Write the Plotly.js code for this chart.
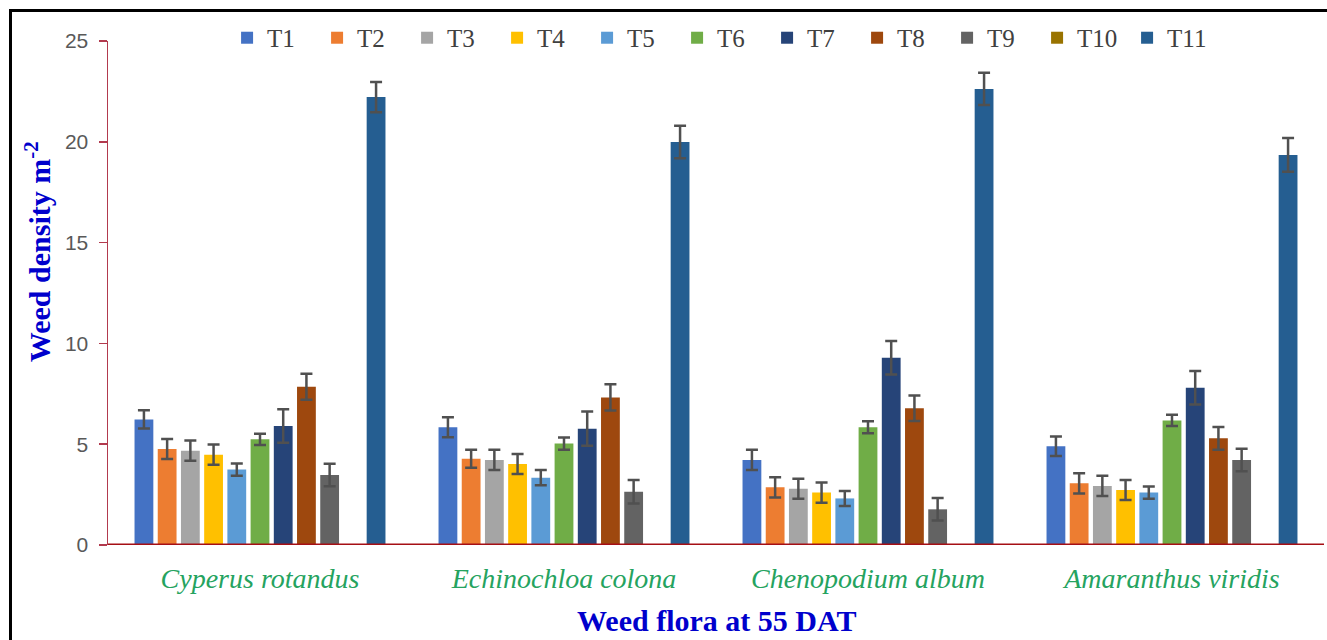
<!DOCTYPE html>
<html>
<head>
<meta charset="utf-8">
<script src="https://cdn.plot.ly/plotly-3.0.1.min.js"></script>
<style>
html,body{margin:0;padding:0;background:#fff;overflow:hidden;}
#chart{position:absolute;left:0;top:0;width:1327px;height:640px;}
#frame{position:absolute;left:9px;top:9px;width:1400px;height:700px;border:3px solid #000;pointer-events:none;}
</style>
</head>
<body>
<div id="chart"></div>
<div id="frame"></div>
<script>
const categories = ["Cyperus rotandus", "Echinochloa colona", "Chenopodium album", "Amaranthus viridis"];
const seriesNames = ["T1","T2","T3","T4","T5","T6","T7","T8","T9","T10","T11"];
const seriesColors = ["#4472C4","#ED7D31","#A5A5A5","#FFC000","#5B9BD5","#70AD47","#264478","#9E480E","#636363","#997300","#255E91"];

const T1 = [6.23, 5.84, 4.22, 4.90];
const T2 = [4.76, 4.28, 2.86, 3.06];
const T3 = [4.68, 4.22, 2.79, 2.93];
const T4 = [4.48, 4.02, 2.60, 2.73];
const T5 = [3.74, 3.34, 2.31, 2.60];
const T6 = [5.24, 5.03, 5.84, 6.18];
const T7 = [5.90, 5.77, 9.29, 7.80];
const T8 = [7.85, 7.32, 6.78, 5.29];
const T9 = [3.47, 2.64, 1.77, 4.22];
const T10 = [0, 0, 0, 0];
const T11 = [22.22, 19.99, 22.62, 19.35];

const E1 = [0.45, 0.50, 0.50, 0.48];
const E2 = [0.50, 0.45, 0.50, 0.50];
const E3 = [0.50, 0.50, 0.50, 0.50];
const E4 = [0.50, 0.50, 0.50, 0.50];
const E5 = [0.30, 0.38, 0.37, 0.30];
const E6 = [0.28, 0.30, 0.30, 0.28];
const E7 = [0.83, 0.85, 0.83, 0.83];
const E8 = [0.65, 0.65, 0.63, 0.56];
const E9 = [0.56, 0.58, 0.56, 0.56];
const E10 = [0, 0, 0, 0];
const E11 = [0.75, 0.80, 0.80, 0.84];

const yTicks = [0, 5, 10, 15, 20, 25];

const values = [T1,T2,T3,T4,T5,T6,T7,T8,T9,T10,T11];
const errors = [E1,E2,E3,E4,E5,E6,E7,E8,E9,E10,E11];

const traces = seriesNames.map((name, i) => ({
  type: 'bar',
  name: name,
  x: categories,
  y: values[i],
  marker: {color: seriesColors[i], line: {width: 0}},
  error_y: {
    type: 'data', array: errors[i], visible: i !== 9,
    color: '#505050', thickness: 2.5, width: 6
  },
  hoverinfo: 'x+y+name'
}));

const serif = '"Liberation Serif", "Times New Roman", serif';

const layout = {
  width: 1327, height: 640,
  paper_bgcolor: '#fff', plot_bgcolor: '#fff',
  margin: {l: 108, r: 3, t: 41, b: 95},
  barmode: 'group',
  bargap: 0.16,
  bargroupgap: 0.19,
  showlegend: true,
  legend: {
    orientation: 'h', x: 0.505, xanchor: 'center', y: 1.006, yanchor: 'middle',
    font: {family: serif, size: 25, color: '#404040'},
    entrywidth: 45, entrywidthmode: 'pixels',
    itemwidth: 30, tracegroupgap: 0, bgcolor: 'rgba(0,0,0,0)'
  },
  xaxis: {
    type: 'category',
    showgrid: false, zeroline: false,
    showline: false,
    ticks: '',
    tickfont: {family: serif, size: 28, color: '#25A35F', style: 'italic'},
    ticklabelstandoff: 14
  },
  yaxis: {
    range: [0, 25],
    tickvals: yTicks,
    showgrid: false, zeroline: false,
    showline: true, linecolor: '#B23A4E', linewidth: 1.5,
    ticks: 'outside', ticklen: 8, tickcolor: '#B23A4E', tickwidth: 1.5,
    tickfont: {family: '"Liberation Sans", Arial, sans-serif', size: 21, color: '#595959'},
    ticklabelstandoff: 6
  },
  shapes: [
    {type: 'line', xref: 'paper', yref: 'y', x0: 0, x1: 1, y0: 0, y1: 0,
     line: {color: '#A50F15', width: 3}}
  ],
  annotations: [
    {text: '<b>Weed density m<sup>-2</sup></b>', xref: 'paper', yref: 'paper',
     x: -0.0576, y: 0.583, xanchor: 'center', yanchor: 'middle', textangle: -90,
     showarrow: false, font: {family: serif, size: 30, color: '#0000CC'}},
    {text: '<b>Weed flora at 55 DAT</b>', xref: 'paper', yref: 'paper',
     x: 0.5, y: (545 - 620) / 504, xanchor: 'center', yanchor: 'middle',
     showarrow: false, font: {family: serif, size: 30, color: '#0000CC'}}
  ]
};

Plotly.newPlot('chart', traces, layout, {displayModeBar: false, staticPlot: true});
</script>
</body>
</html>
